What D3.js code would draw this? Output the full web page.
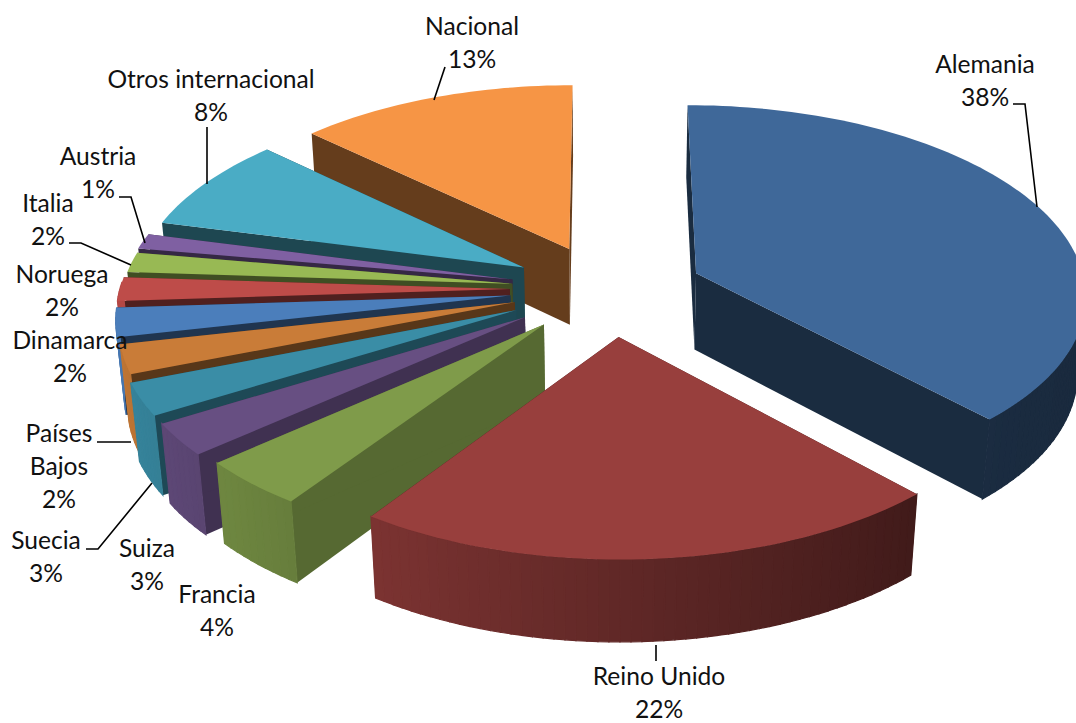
<!DOCTYPE html>
<html><head><meta charset="utf-8">
<script src="https://cdn.jsdelivr.net/npm/d3@7"></script>
<style>html,body{margin:0;padding:0;background:#fff}svg{display:block}</style>
</head><body><svg id="c" width="1076" height="723"></svg>
<script>
const categories=["Alemania","Reino Unido","Francia","Suiza","Suecia","Países Bajos","Dinamarca","Noruega","Italia","Austria","Otros internacional","Nacional"];
const values=[38,21.6,4,2.75,2.75,2.45,2.45,2,1.7,1.3,8,13];
const explode=[0.25,0.25,0.24,0.25,0.25,0.24,0.244,0.244,0.24,0.244,0.24,0.236];
const explodeTurn=[2,-3.5,-2,0,0,0,0,0,0,0,0,0];
const colors=["#3F6899","#983F3D","#7F9B4A","#674F82","#3A8DA6","#C97C38","#4B7EBB","#BE4C49","#98B954","#7F60A2","#4AACC5","#F69545"];
const sideShade=[0.42,0.42,0.68,0.62,0.52,0.44,0.42,0.42,0.42,0.42,0.41,0.41];
const labelLines=[["Alemania","38%"],["Reino Unido","22%"],["Francia","4%"],["Suiza","3%"],["Suecia","3%"],["Países","Bajos","2%"],["Dinamarca","2%"],["Noruega","2%"],["Italia","2%"],["Austria","1%"],["Otros internacional","8%"],["Nacional","13%"]];
const labelCx=[985,659,217,147,46,59,70,62,48,98,211,472];
const labelCy=[64,676,594,548,540,433,340,274,203,156,79,26];
const leaders=[[[1013,104],[1025,104],[1037,207]],[[656,645],[656,661]],[],[],[[86,549],[98,549],[152,483]],[[97,442],[131,442]],[],[],[[69,243],[81,243],[131,265]],[[119,197],[131,197],[145,243]],[[207,127],[207,184]],[[445,67],[434,100]]];
const drawOrder=[11,10,9,8,7,6,5,4,3,2,0,1];

const cx=605,cy=289,a=390,b=188.7,p=0.104,h=78,r=0.018;
function proj(X,Y,base){const w=1-p*Y+(base?r:0);return [cx+a*X/w,cy+(b*Y+(base?h:0))/w];}

const svg=d3.select("#c");
const arcs=d3.pie().sort(null).startAngle(0).endAngle(2*Math.PI)(values);
const line=d3.line();
const scale=(c,f)=>{const q=d3.rgb(c);return d3.rgb(q.r*f,q.g*f,q.b*f).formatHex();};
const rimShade=d3.scaleLinear().domain([-1,-0.6,0.7,1]).range([0.95,0.82,0.42,0.4]).clamp(true);

drawOrder.forEach(i=>{
  const d=arcs[i],g=svg.append("g");
  const mid=(d.startAngle+d.endAngle)/2+explodeTurn[i]*Math.PI/180;
  const X0=explode[i]*Math.sin(mid),Y0=-explode[i]*Math.cos(mid);
  const n=Math.max(4,Math.round((d.endAngle-d.startAngle)*40));
  const ang=d3.range(n+1).map(k=>d.startAngle+(d.endAngle-d.startAngle)*k/n);
  const rim=t=>[X0+Math.sin(t),Y0-Math.cos(t)];
  const side=scale(colors[i],sideShade[i]);
  [d.startAngle,d.endAngle].forEach(t=>{
    const e=rim(t);
    g.append("path").attr("d",line([proj(X0,Y0,false),proj(e[0],e[1],false),proj(e[0],e[1],true),proj(X0,Y0,true)])+"Z").attr("fill",side);
  });
  d3.pairs(ang).forEach(([t0,t1])=>{
    const e0=rim(t0),e1=rim(t1);
    const c=scale(colors[i],rimShade(Math.sin((t0+t1)/2)));
    if(Math.cos((t0+t1)/2)<0.05)
    g.append("path").attr("d",line([proj(e0[0],e0[1],false),proj(e1[0],e1[1],false),proj(e1[0],e1[1],true),proj(e0[0],e0[1],true)])+"Z").attr("fill",c).attr("stroke",c).attr("stroke-width",1.2);
  });
  const top=[proj(X0,Y0,false)].concat(ang.map(t=>{const e=rim(t);return proj(e[0],e[1],false);}));
  g.append("path").attr("d",line(top)+"Z").attr("fill",colors[i]);
});

leaders.forEach(l=>{if(l.length)svg.append("path").attr("d",line(l)).attr("fill","none").attr("stroke","#000").attr("stroke-width",1.6);});

labelLines.forEach((ls,i)=>{
  const t=svg.append("text").attr("text-anchor","middle").attr("font-family","Lato").attr("font-size",24.6).attr("fill","#111");
  ls.forEach((s,k)=>t.append("tspan").attr("x",labelCx[i]).attr("y",labelCy[i]+k*33).attr("dy","0.35em").text(s));
});
</script></body></html>
